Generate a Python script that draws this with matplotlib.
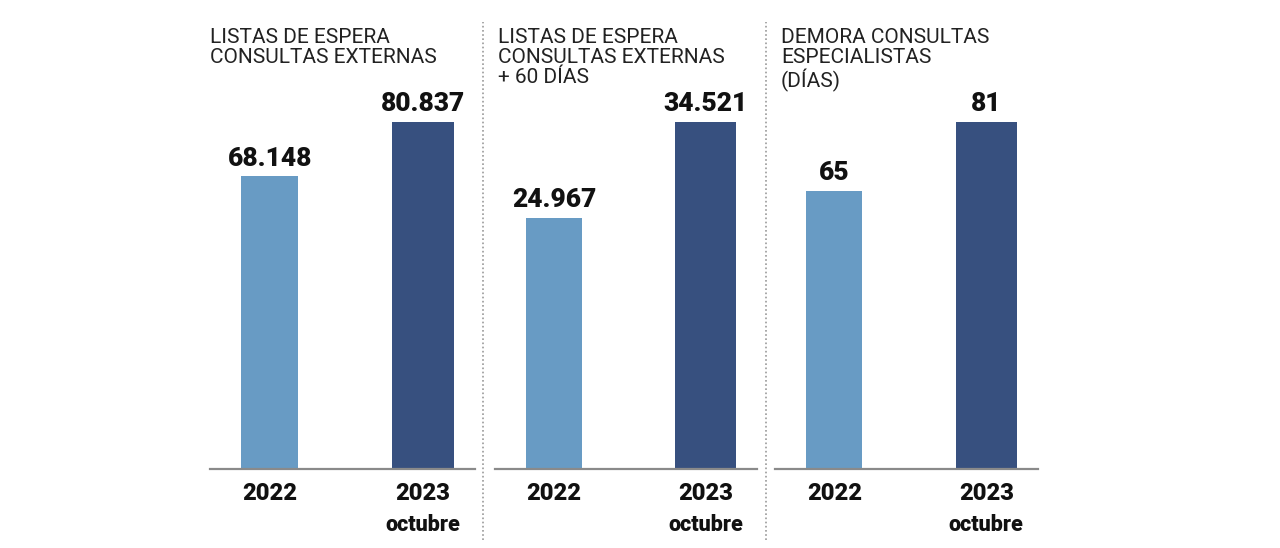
import matplotlib.pyplot as plt
from matplotlib.lines import Line2D

# data
titles = [
    "LISTAS DE ESPERA\nCONSULTAS EXTERNAS",
    "LISTAS DE ESPERA\nCONSULTAS EXTERNAS\n+ 60 DÍAS",
    "DEMORA CONSULTAS\nESPECIALISTAS\n(DÍAS)",
]
years = ["2022", "2023"]
month_2023 = "octubre"
values_2022 = [68148, 24967, 65]
values_2023 = [80837, 34521, 81]
labels_2022 = ["68.148", "24.967", "65"]
labels_2023 = ["80.837", "34.521", "81"]

light = "#689bc4"
dark = "#37507f"

W, H = 1280, 548
fig = plt.figure(figsize=(W / 100, H / 100), dpi=100)

# axes boxes in pixels: left, right
boxes = [(210, 475), (495, 757), (775, 1038)]
title_x = [210, 498, 781]
base_y = 469
top_y = 122

title_font = ["Roboto", "DejaVu Sans"]
num_font = ["Roboto", "DejaVu Sans"]

for i, (x0, x1) in enumerate(boxes):
    ax = fig.add_axes([x0 / W, (H - base_y) / H, (x1 - x0) / W, (base_y - top_y) / H])
    vals = [values_2022[i], values_2023[i]]
    bars = ax.bar([0, 1], vals, width=[0.37, 0.40], color=[light, dark])
    ax.set_xlim(-0.39, 1.34)
    ax.set_ylim(0, max(vals))
    for b, lab in zip(bars, [labels_2022[i], labels_2023[i]]):
        ax.annotate(lab, (b.get_x() + b.get_width() / 2, b.get_height()),
                    xytext=(0, 4), textcoords="offset points", ha="center", va="bottom",
                    fontsize=19, fontweight="heavy", family=num_font, color="#111111")
    for s in ["top", "right", "left"]:
        ax.spines[s].set_visible(False)
    ax.spines["bottom"].set_color("#8a8a8a")
    ax.spines["bottom"].set_linewidth(1.6)
    ax.set_yticks([])
    ax.set_xticks([0, 1])
    ax.set_xticklabels(years, fontsize=17, fontweight="heavy", family=num_font, color="#111111")
    ax.tick_params(axis="x", length=0, pad=9)
    ax.annotate(month_2023, (1, 0), xycoords=ax.get_xaxis_transform(),
                xytext=(0, -40), textcoords="offset points", ha="center", va="center",
                fontsize=15.5, fontweight="heavy", family=num_font, color="#111111")
    fig.text(title_x[i] / W, (H - 28) / H, titles[i], ha="left", va="top",
             fontsize=15, family=title_font, color="#222222", linespacing=1.07)

# dotted separators
for xs in [483, 766]:
    fig.add_artist(Line2D([xs / W, xs / W], [(H - 540) / H, (H - 22) / H],
                          color="#999999", linestyle=(0, (1, 1.5)), linewidth=1.2))

plt.savefig("out.png", dpi=100)
